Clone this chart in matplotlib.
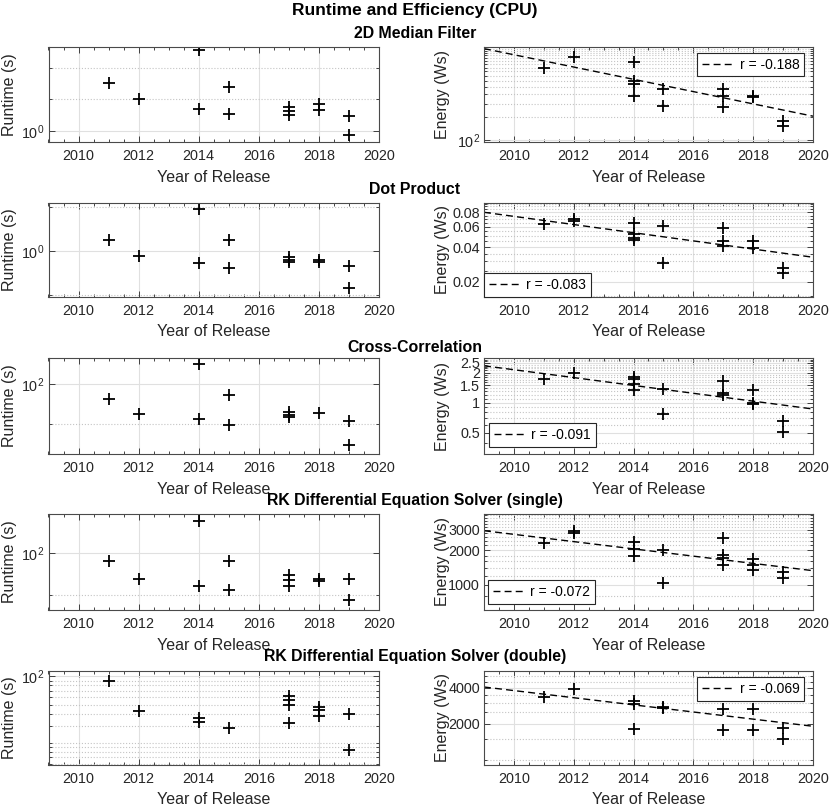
import numpy as np
import matplotlib
matplotlib.use("Agg")
import matplotlib.pyplot as plt
from matplotlib.ticker import FixedLocator, FixedFormatter, NullFormatter, MultipleLocator

plt.rcParams['font.family'] = ['Liberation Sans', 'DejaVu Sans']
plt.rcParams['mathtext.fontset'] = 'custom'
plt.rcParams['mathtext.rm'] = 'Liberation Sans'
plt.rcParams['mathtext.it'] = 'Liberation Sans:italic'

# ---- data ----
titles = ["2D Median Filter", "Dot Product", "Cross-Correlation",
          "RK Differential Equation Solver (single)",
          "RK Differential Equation Solver (double)"]

median_rt_years = [2011, 2012, 2014, 2014, 2015, 2015, 2017, 2017, 2017, 2018, 2018, 2019, 2019]
median_rt = [2.83, 2.0, 5.87, 1.63, 2.59, 1.46, 1.69, 1.55, 1.41, 1.82, 1.57, 1.39, 0.91]
median_en_years = [2011, 2012, 2014, 2014, 2014, 2014, 2015, 2015, 2017, 2017, 2017, 2018, 2018, 2019, 2019]
median_en = [900, 1227, 1053, 595, 543, 377, 462, 280, 466, 380, 272, 380, 362, 177, 152]

dot_rt_years = [2011, 2012, 2014, 2014, 2015, 2015, 2017, 2017, 2017, 2018, 2018, 2019, 2019]
dot_rt = [1.19, 0.924, 1.94, 0.823, 1.19, 0.761, 0.905, 0.87, 0.835, 0.868, 0.845, 0.789, 0.555]
dot_en_years = [2011, 2012, 2012, 2014, 2014, 2014, 2014, 2015, 2015, 2017, 2017, 2017, 2018, 2018, 2019, 2019]
dot_en = [0.063, 0.070, 0.067, 0.064, 0.0515, 0.0476, 0.0457, 0.0612, 0.0289,
          0.0588, 0.0451, 0.0410, 0.0451, 0.0394, 0.0261, 0.0239]

xcorr_rt_years = [2011, 2012, 2014, 2014, 2015, 2015, 2017, 2017, 2017, 2018, 2019, 2019]
xcorr_rt = [77.3, 59.4, 141, 54.8, 82.8, 49.7, 61.8, 58.4, 56.4, 60.4, 53.2, 35.1]
xcorr_en_years = [2011, 2012, 2014, 2014, 2014, 2014, 2015, 2015, 2017, 2017, 2017, 2018, 2018, 2018, 2019, 2019]
xcorr_en = [1.71, 2.0, 1.80, 1.72, 1.55, 1.34, 1.38, 0.765, 1.66, 1.24, 1.19, 1.34, 1.0, 0.97, 0.656, 0.513]

rks_rt_years = [2011, 2012, 2014, 2014, 2015, 2015, 2017, 2017, 2017, 2018, 2018, 2019, 2019]
rks_rt = [88, 64.9, 171, 58.3, 88, 54.3, 69.7, 64.2, 58.3, 64.9, 63.5, 64.9, 46]
rks_en_years = [2011, 2012, 2012, 2014, 2014, 2014, 2015, 2015, 2017, 2017, 2017, 2017, 2018, 2018, 2018, 2019, 2019]
rks_en = [2296, 2950, 2840, 2371, 2037, 1794, 2009, 1034, 2569, 1819, 1702, 1490, 1669, 1490, 1349, 1304, 1143]

rkd_rt_years = [2011, 2012, 2014, 2014, 2015, 2017, 2017, 2017, 2017, 2018, 2018, 2018, 2019, 2019]
rkd_rt = [88.6, 42.8, 36.4, 33.0, 28.6, 61.6, 56.7, 50.2, 32.2, 47.2, 44.5, 37.9, 40.4, 16.9]
rkd_en_years = [2011, 2012, 2014, 2014, 2014, 2015, 2015, 2017, 2017, 2018, 2018, 2019, 2019]
rkd_en = [3343, 3945, 3120, 2960, 1815, 2793, 2722, 2668, 1792, 2668, 1792, 1857, 1507]

# trend line ends (energy at 2009 and 2020) and correlation labels
trend_years = [2009, 2020]
trend_vals = [(1600, 205), (0.080, 0.0326), (2.34, 0.865), (2952, 1330), (4076, 1914)]
r_labels = ["-0.188", "-0.083", "-0.091", "-0.072", "-0.069"]

# y ranges and tick labels
rt_ylims = [(0.786, 6.27), (0.484, 2.13), (30, 156), (38.9, 192), (11.6, 113.7)]
rt_ticks = [[1], [1], [100], [100], [100]]
rt_ticklabels = [[r'$\mathregular{10^0}$'], [r'$\mathregular{10^0}$'], [r'$\mathregular{10^2}$'],
                 [r'$\mathregular{10^2}$'], [r'$\mathregular{10^2}$']]
rt_minor = [[2, 4], [0.5, 2], [50], [50], [12, 14, 16, 18, 20, 30, 40, 50, 60, 70, 80, 90]]

en_ylims = [(93.5, 1680), (0.01474, 0.0963), (0.307, 2.80), (607, 4120), (908, 5548)]
en_ticks = [[100], [0.02, 0.04, 0.06, 0.08], [0.5, 1, 1.5, 2, 2.5], [1000, 2000, 3000], [2000, 4000]]
en_ticklabels = [[r'$\mathregular{10^2}$'], ['0.02', '0.04', '0.06', '0.08'],
                 ['0.5', '1', '1.5', '2', '2.5'], ['1000', '2000', '3000'], ['2000', '4000']]
en_minor_step = [100, 0.005, 0.1, 200, 500]

rt_data = [(median_rt_years, median_rt), (dot_rt_years, dot_rt), (xcorr_rt_years, xcorr_rt),
           (rks_rt_years, rks_rt), (rkd_rt_years, rkd_rt)]
en_data = [(median_en_years, median_en), (dot_en_years, dot_en), (xcorr_en_years, xcorr_en),
           (rks_en_years, rks_en), (rkd_en_years, rkd_en)]

# layout (pixels of an 830x808 canvas)
W, H = 830, 808
rows_px = [(47, 142), (203, 297), (358, 454), (514, 610), (671, 765)]
title_y = [33, 189, 347, 501, 657]
legend_pos = [('upper right', (0.973, 0.94)), ('lower left', (0.0, 0.0)),
              ('lower left', (0.015, 0.073)), ('lower left', (0.012, 0.0625)),
              ('upper right', (0.973, 0.936))]

TXT = '#262626'


def style_axes(ax, ylim, ticks, labels, minor):
    ax.set_yscale('log')
    ax.set_xlim(2009, 2020)
    ax.set_ylim(*ylim)
    ax.xaxis.set_major_locator(MultipleLocator(2))
    ax.xaxis.set_minor_locator(MultipleLocator(0.5))
    ax.yaxis.set_major_locator(FixedLocator(ticks))
    ax.yaxis.set_major_formatter(FixedFormatter(labels))
    ax.yaxis.set_minor_locator(FixedLocator(minor))
    ax.yaxis.set_minor_formatter(NullFormatter())
    ax.tick_params(which='both', direction='in', top=True, right=True,
                   colors=TXT, labelsize=10.4, width=0.6)
    ax.tick_params(which='major', length=4, pad=5)
    ax.tick_params(which='minor', length=2)
    ax.tick_params(axis='y', which='major', pad=3)
    ax.grid(True, which='major', color='#e0e0e0', lw=0.8, ls='-')
    ax.grid(True, which='minor', axis='y', color='#c4c4c4', lw=0.8, ls=':')
    ax.set_axisbelow(True)
    for sp in ax.spines.values():
        sp.set_color('#4a4a4a')
        sp.set_linewidth(0.8)
    ax.set_xlabel('Year of Release', fontsize=11.5, color=TXT)
    ax.xaxis.set_label_coords(0.5, -0.29)


fig = plt.figure(figsize=(W / 100, H / 100), dpi=100)
fig.text(0.5, 1 - 10 / H, 'Runtime and Efficiency (CPU)', ha='center', va='center',
         fontsize=12.5, fontweight='bold', color='black')

for i in range(5):
    top, bot = rows_px[i]
    fig.text(0.5, 1 - title_y[i] / H, titles[i], ha='center', va='center',
             fontsize=11.4, fontweight='bold', color='black')

    # runtime
    ax = fig.add_axes([48.5 / W, 1 - bot / H, 330.5 / W, (bot - top) / H])
    style_axes(ax, rt_ylims[i], rt_ticks[i], rt_ticklabels[i], rt_minor[i])
    yrs, vals = rt_data[i]
    ax.plot(yrs, vals, ls='none', marker='+', ms=9, mew=1.3, color='black')
    ax.set_ylabel('Runtime (s)', fontsize=11.5, color=TXT)
    ax.yaxis.set_label_coords(-0.095, 0.5)

    # energy
    lo, hi = en_ylims[i]
    step = en_minor_step[i]
    minor = [m for m in np.arange(step, hi * 1.01, step)
             if m >= lo and all(abs(m - t) > step * 0.01 for t in en_ticks[i])]
    ax = fig.add_axes([484 / W, 1 - bot / H, 329 / W, (bot - top) / H])
    style_axes(ax, en_ylims[i], en_ticks[i], en_ticklabels[i], minor)
    yrs, vals = en_data[i]
    ax.plot(yrs, vals, ls='none', marker='+', ms=9, mew=1.3, color='black')
    ax.plot(trend_years, trend_vals[i], color='black', lw=1.0, ls='--', dashes=(5, 3),
            label=f'r = {r_labels[i]}')
    ax.set_ylabel('Energy (Ws)', fontsize=11.5, color=TXT)
    ax.yaxis.set_label_coords(-0.103, 0.5)
    loc, anchor = legend_pos[i]
    leg = ax.legend(loc=loc, bbox_to_anchor=anchor, borderaxespad=0, fancybox=False,
                    edgecolor=TXT, framealpha=1, fontsize=10, handlelength=2.3,
                    handletextpad=0.4, borderpad=0.35)
    leg.get_frame().set_linewidth(0.8)

fig.savefig('out.png', dpi=100)
